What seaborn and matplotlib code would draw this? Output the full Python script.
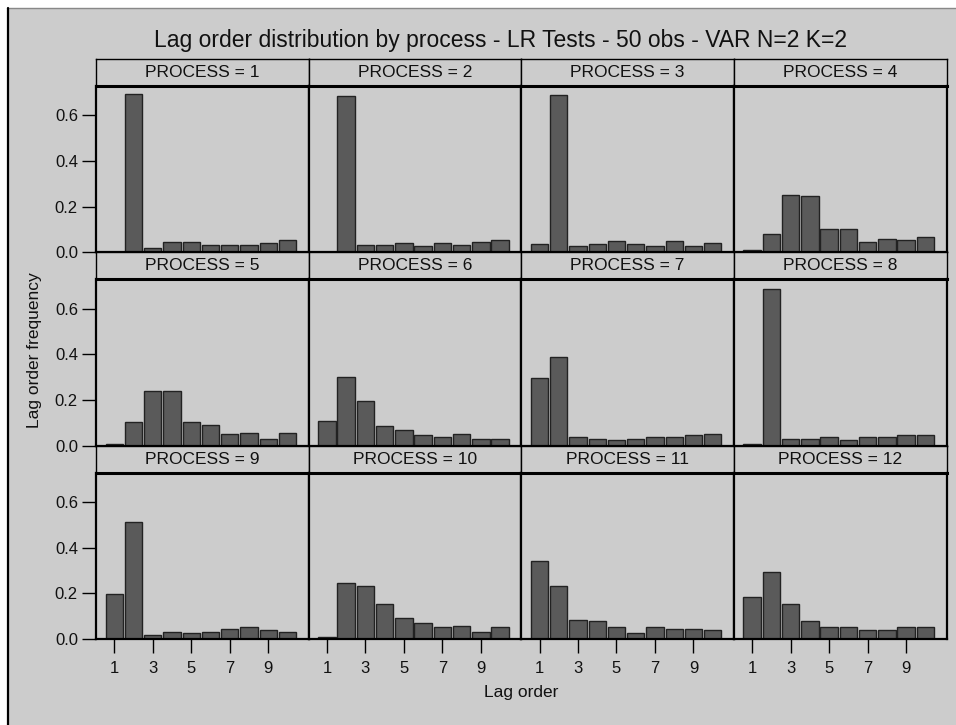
import matplotlib
matplotlib.use("Agg")
import matplotlib.pyplot as plt
from matplotlib.patches import Rectangle
from matplotlib.lines import Line2D
import seaborn as sns
import pandas as pd

sns.set_theme(style="white")
plt.rcParams['font.family'] = ['Liberation Sans', 'DejaVu Sans']

lags = [1, 2, 3, 4, 5, 6, 7, 8, 9, 10]
freq_p1 = [0.0, 0.693, 0.020, 0.047, 0.047, 0.034, 0.034, 0.034, 0.041, 0.054]
freq_p2 = [0.0, 0.686, 0.034, 0.034, 0.041, 0.028, 0.041, 0.034, 0.047, 0.054]
freq_p3 = [0.035, 0.687, 0.028, 0.035, 0.048, 0.035, 0.028, 0.048, 0.028, 0.041]
freq_p4 = [0.009, 0.080, 0.251, 0.246, 0.100, 0.100, 0.047, 0.060, 0.054, 0.067]
freq_p5 = [0.007, 0.102, 0.241, 0.241, 0.102, 0.089, 0.050, 0.057, 0.031, 0.057]
freq_p6 = [0.110, 0.301, 0.196, 0.085, 0.070, 0.045, 0.039, 0.051, 0.031, 0.031]
freq_p7 = [0.295, 0.387, 0.038, 0.031, 0.023, 0.031, 0.038, 0.038, 0.045, 0.051]
freq_p8 = [0.007, 0.684, 0.031, 0.031, 0.038, 0.023, 0.038, 0.038, 0.045, 0.045]
freq_p9 = [0.196, 0.513, 0.019, 0.032, 0.025, 0.032, 0.045, 0.053, 0.039, 0.032]
freq_p10 = [0.007, 0.243, 0.230, 0.151, 0.092, 0.072, 0.053, 0.058, 0.032, 0.053]
freq_p11 = [0.342, 0.230, 0.085, 0.079, 0.053, 0.025, 0.053, 0.045, 0.045, 0.039]
freq_p12 = [0.184, 0.295, 0.151, 0.079, 0.053, 0.053, 0.039, 0.039, 0.053, 0.053]
processes = list(range(1, 13))
y_ticks = [0.0, 0.2, 0.4, 0.6]
y_tick_labels = ["0.0", "0.2", "0.4", "0.6"]
x_ticks = [1, 3, 5, 7, 9]

all_freqs = [freq_p1, freq_p2, freq_p3, freq_p4, freq_p5, freq_p6,
             freq_p7, freq_p8, freq_p9, freq_p10, freq_p11, freq_p12]
rows = []
for p, fr in zip(processes, all_freqs):
    for l, f in zip(lags, fr):
        rows.append({"PROCESS": p, "Lag order": l, "freq": f})
df = pd.DataFrame(rows)

W, H = 956, 725
BG = "#cccccc"
fig = plt.figure(figsize=(W / 100, H / 100), dpi=100, facecolor="white")

# outer frame
fig.patches.append(Rectangle((7 / W, 0), 1 - 7 / W, 1 - 8 / H, transform=fig.transFigure,
                             facecolor=BG, edgecolor="none", zorder=-10))
fig.lines.append(Line2D([7 / W, 1], [1 - 8 / H, 1 - 8 / H], transform=fig.transFigure,
                        color="#888888", lw=1.0, zorder=-5))
fig.lines.append(Line2D([7.5 / W, 7.5 / W], [0, 1 - 8 / H], transform=fig.transFigure,
                        color="black", lw=1.6, zorder=-5))

x0, x1 = 96, 946.5
col_w = (x1 - x0) / 4
top = 59
row_h = (639 - 59) / 3
strip_h = 27


def rect(x, y_top, w, h):
    return [x / W, 1 - (y_top + h) / H, w / W, h / H]


for i, p in enumerate(processes):
    r, c = divmod(i, 4)
    xl = x0 + c * col_w
    yt = top + r * row_h
    # strip
    sax = fig.add_axes(rect(xl, yt, col_w, strip_h))
    sax.set_facecolor(BG)
    sax.set_xticks([]); sax.set_yticks([])
    for s in sax.spines.values():
        s.set_color("black"); s.set_linewidth(1.0)
    sax.text(0.5, 0.5, f"PROCESS = {p}", ha="center", va="center", fontsize=12.5,
             color="#111111", transform=sax.transAxes)
    # panel
    ax = fig.add_axes(rect(xl, yt + strip_h, col_w, row_h - strip_h))
    ax.set_facecolor(BG)
    sub = df[df["PROCESS"] == p]
    sns.barplot(data=sub, x="Lag order", y="freq", native_scale=True, width=0.9,
                color="#5a5a5a", saturation=1, edgecolor="#222222", linewidth=1.0,
                errorbar=None, ax=ax)
    ax.set_xlim(0.05, 11.1)
    ax.set_ylim(0, 0.728)
    ax.set_xlabel(""); ax.set_ylabel("")
    for s in ax.spines.values():
        s.set_color("black"); s.set_linewidth(1.6)
    ax.spines["top"].set_linewidth(2.2)
    if c == 0:
        ax.set_yticks(y_ticks)
        ax.set_yticklabels(y_tick_labels)
        ax.tick_params(axis="y", left=True, length=10, width=1, color="black",
                       labelsize=12, labelcolor="#111111", pad=3)
    else:
        ax.set_yticks([])
    if r == 2:
        ax.set_xticks(x_ticks)
        ax.set_xticklabels([str(t) for t in x_ticks])
        ax.tick_params(axis="x", bottom=True, length=10, width=1, color="black",
                       labelsize=12, labelcolor="#111111", pad=6)
    else:
        ax.set_xticks([])

fig.text(500 / W, 1 - 40 / H, "Lag order distribution by process - LR Tests - 50 obs - VAR N=2 K=2",
         ha="center", va="center", fontsize=16.5, color="#111111")
fig.text(521 / W, 1 - 692 / H, "Lag order", ha="center", va="center", fontsize=12.5,
         color="#111111")
fig.text(35 / W, 1 - 350 / H, "Lag order frequency", ha="center", va="center",
         rotation=90, fontsize=12.5, color="#111111")

fig.savefig("out.png", dpi=100, facecolor="white")
